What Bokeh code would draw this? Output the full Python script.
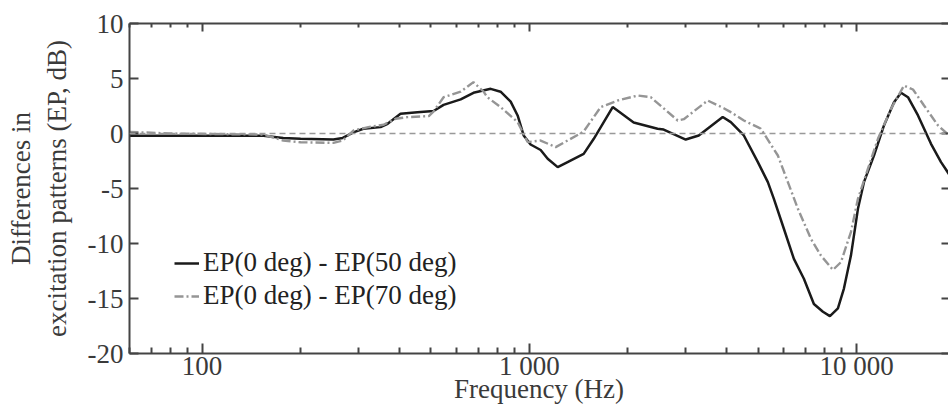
from bokeh.plotting import figure
from bokeh.models import LogAxis, LinearAxis, FixedTicker, Span, Legend, LegendItem
from bokeh.embed import file_html
from bokeh.resources import INLINE

# --- data ---
freq_50 = [60, 100, 154, 177, 200, 252, 269, 290, 311, 351, 369, 404, 455, 510, 547, 617,
           675, 762, 817, 877, 921, 961, 1009, 1083, 1138, 1221, 1309, 1466, 1574, 1798,
           2084, 2466, 2574, 3006, 3295, 3900, 4128, 4525, 4994, 5358, 5590, 5997, 6435,
           6904, 7407, 7894, 8292, 8771, 9150, 9613, 10099, 10535, 11304, 12129, 13017,
           13675, 14361, 15410, 16887, 18121, 19439]
diff_50 = [-0.2, -0.2, -0.2, -0.4, -0.48, -0.55, -0.4, 0.1, 0.43, 0.58, 0.88, 1.79, 1.94,
           2.05, 2.6, 3.1, 3.7, 4.06, 3.8, 2.9, 1.64, -0.18, -1.0, -1.5, -2.3, -3.06, -2.6,
           -1.85, -0.48, 2.4, 1.0, 0.43, 0.36, -0.55, -0.18, 1.5, 1.03, -0.18, -2.6, -4.42,
           -5.94, -8.66, -11.4, -13.2, -15.5, -16.2, -16.6, -15.9, -14.1, -11.1, -6.85,
           -4.42, -2.0, 0.73, 2.85, 3.7, 3.3, 1.64, -0.94, -2.6, -3.97]

freq_70 = [60, 80, 154, 177, 200, 252, 269, 290, 322, 359, 390, 424, 493, 510, 547, 617,
           675, 725, 744, 817, 921, 988, 1083, 1204, 1309, 1466, 1652, 1862, 2143, 2350,
           2842, 2965, 3509, 3928, 4128, 4525, 4989, 5101, 5749, 6168, 6620, 7254, 7784,
           8471, 8958, 9613, 10099, 10837, 11627, 12745, 13964, 14876, 16076, 17742, 19439]
diff_70 = [0.15, 0.0, -0.1, -0.64, -0.8, -0.85, -0.64, 0.27, 0.58, 0.8, 1.34, 1.49, 1.58,
           2.0, 3.3, 3.8, 4.67, 3.8, 3.3, 2.4, 1.04, -0.78, -0.64, -1.24, -0.64, 0.18, 2.4,
           3.0, 3.45, 3.3, 1.18, 1.3, 3.0, 2.3, 1.94, 1.18, 0.58, 0.43, -2.0, -4.42, -6.85,
           -9.57, -11.1, -12.4, -11.7, -8.96, -5.94, -3.2, -0.48, 2.24, 4.36, 4.0, 2.55,
           0.73, -0.33]

x_major = [100, 1000, 10000]
x_minor = [60, 70, 80, 90, 200, 300, 400, 500, 600, 700, 800, 900,
           2000, 3000, 4000, 5000, 6000, 7000, 8000, 9000, 20000]
x_labels = {100: "100", 1000: "1 000", 10000: "10 000"}
y_ticks = [-20, -15, -10, -5, 0, 5, 10]
y_labels = {-20: "-20", -15: "-15", -10: "-10", -5: "-5", 0: "0", 5: "5", 10: "10"}
labels = ["EP(0 deg) - EP(50 deg)", "EP(0 deg) - EP(70 deg)"]

FONT = "Liberation Serif"
FS = "27px"
AX = "#444444"
TXT = "#3a3a3a"

p = figure(x_axis_type="log", x_range=(60, 19100), y_range=(-20, 10),
           frame_width=819, frame_height=330,
           min_border_left=129, min_border_right=0, min_border_top=23, min_border_bottom=0,
           output_backend="svg", toolbar_location=None)
p.grid.visible = False
p.outline_line_color = None
p.background_fill_color = "white"
p.border_fill_color = "white"

xt = FixedTicker(ticks=x_major, minor_ticks=x_minor)
yt = FixedTicker(ticks=y_ticks, minor_ticks=[])

xa = p.xaxis[0]
xa.ticker = xt
xa.major_label_overrides = x_labels
xa.axis_label = "Frequency (Hz)"
ya = p.yaxis[0]
ya.ticker = yt
ya.major_label_overrides = y_labels
ya.axis_label = "Differences in\nexcitation patterns (EP, dB)"

for ax in (xa, ya):
    ax.axis_line_color = AX
    ax.axis_line_width = 2
    ax.major_tick_line_color = AX
    ax.major_tick_line_width = 2
    ax.minor_tick_line_color = AX
    ax.minor_tick_line_width = 2
    ax.major_tick_in = 10
    ax.major_tick_out = 0
    ax.minor_tick_in = 6
    ax.minor_tick_out = 0
    ax.major_label_text_font = FONT
    ax.major_label_text_font_size = FS
    ax.major_label_text_color = TXT
    ax.axis_label_text_font = FONT
    ax.axis_label_text_font_size = FS
    ax.axis_label_text_font_style = "normal"
    ax.axis_label_text_color = TXT
ya.major_tick_in = 9
xa.major_label_standoff = -3
xa.axis_label_standoff = -10
ya.major_label_standoff = 6
ya.axis_label_standoff = 13

top = LogAxis(ticker=xt, major_label_text_font_size="1px", major_label_text_color=None,
              major_label_standoff=0,
              axis_line_color=AX, axis_line_width=2,
              major_tick_line_color=AX, major_tick_line_width=2,
              minor_tick_line_color=AX, minor_tick_line_width=2,
              major_tick_in=8, major_tick_out=0, minor_tick_in=4, minor_tick_out=0)
p.add_layout(top, "above")

right = LinearAxis(ticker=yt, major_label_text_font_size="1px", major_label_text_color=None,
                   major_label_standoff=0,
                   axis_line_color=None,
                   major_tick_line_color=AX, major_tick_line_width=2,
                   major_tick_in=7, major_tick_out=0, minor_tick_in=0, minor_tick_out=0)
p.add_layout(right, "right")

p.add_layout(Span(location=0, dimension="width", line_color="#999999",
                  line_width=1.5, line_dash="6 4"))

r50 = p.line(freq_50, diff_50, line_color="#1a1a1a", line_width=2.5)
r70 = p.line(freq_70, diff_70, line_color="#959595", line_width=2.4, line_dash="9 3 2 3")

leg = Legend(items=[LegendItem(label=labels[0], renderers=[r50]),
                    LegendItem(label=labels[1], renderers=[r70])],
             location=(45, 42), padding=0, margin=0, spacing=2,
             glyph_width=25, glyph_height=30, label_height=30, label_standoff=4,
             label_text_font=FONT, label_text_font_size=FS, label_text_color="#222222",
             border_line_color=None, background_fill_alpha=0)
p.add_layout(leg)

open("out.html", "w").write(file_html(p, INLINE))
